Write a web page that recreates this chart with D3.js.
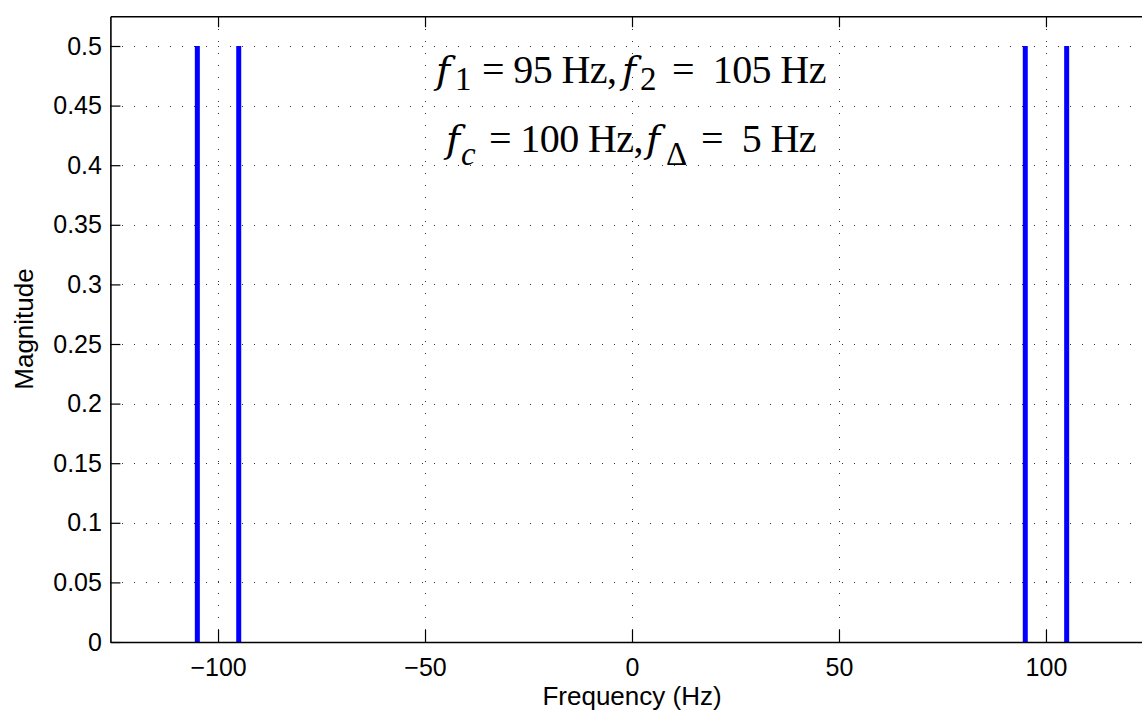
<!DOCTYPE html>
<html>
<head>
<meta charset="utf-8">
<script src="https://cdn.jsdelivr.net/npm/d3@7"></script>
<style>
  html, body { margin: 0; padding: 0; background: #fff; }
  svg { display: block; }
  text { white-space: pre; }
</style>
</head>
<body>
<svg id="chart" width="1142" height="711"></svg>
<script>
// ---- data ----
const frequencies = [-105, -95, 95, 105];
const magnitudes = [0.5, 0.5, 0.5, 0.5];
const xTicks = [-100, -50, 0, 50, 100];
const yTicks = [0, 0.05, 0.1, 0.15, 0.2, 0.25, 0.3, 0.35, 0.4, 0.45, 0.5];
const xDomain = [-126, 126];
const yDomain = [0, 0.525];
const xLabel = "Frequency (Hz)";
const yLabel = "Magnitude";

(function () {
// ---- layout ----
const svg = d3.select("#chart");
const x = d3.scaleLinear().domain(xDomain).range([110.4, 1153.6]);
const y = d3.scaleLinear().domain(yDomain).range([642, 16.2]);
const pLeft = x(xDomain[0]), pRight = x(xDomain[1]);
const pTop = y(yDomain[1]), pBottom = y(yDomain[0]);

// grid
const grid = svg.append("g").attr("stroke", "#333").attr("stroke-width", 1)
  .attr("stroke-dasharray", "1,11").attr("shape-rendering", "crispEdges");
grid.selectAll("line.vx").data(xTicks).join("line")
  .attr("x1", d => Math.round(x(d)) + 0.5).attr("x2", d => Math.round(x(d)) + 0.5)
  .attr("y1", pBottom).attr("y2", pTop);
grid.selectAll("line.hy").data(yTicks.filter(d => d > 0)).join("line")
  .attr("x1", pLeft).attr("x2", pRight)
  .attr("y1", d => Math.round(y(d)) + 0.5).attr("y2", d => Math.round(y(d)) + 0.5);

// spectral lines
svg.append("g").selectAll("line").data(frequencies).join("line")
  .attr("x1", d => x(d)).attr("x2", d => x(d))
  .attr("y1", y(0)).attr("y2", (d, i) => y(magnitudes[i]))
  .attr("stroke", "#0000ff").attr("stroke-width", 5);

// axes
const axisBottom = d3.axisBottom(x).tickValues(xTicks).tickSizeInner(-12).tickSizeOuter(0).tickPadding(16)
  .tickFormat(d3.format(""));
const axisTop = d3.axisTop(x).tickValues(xTicks).tickSizeInner(-11).tickSizeOuter(0).tickFormat("");
const axisLeft = d3.axisLeft(y).tickValues(yTicks).tickSizeInner(-10).tickSizeOuter(0).tickPadding(8.5)
  .tickFormat(d => d3.format("")(+d.toFixed(2)));

function styleAxis(g) {
  g.select(".domain").attr("stroke", "#000").attr("stroke-width", 1.6);
  g.selectAll(".tick line").attr("stroke", "#000").attr("stroke-width", 1.2);
  g.selectAll(".tick text").attr("fill", "#000")
    .attr("font-family", "'Liberation Sans', Arial, Helvetica, sans-serif").attr("font-size", 25);
}
svg.append("g").attr("transform", `translate(0,${pBottom})`).call(axisBottom).call(styleAxis);
svg.append("g").attr("transform", `translate(0,${pTop})`).call(axisTop).call(styleAxis);
svg.append("g").attr("transform", `translate(${pLeft},0)`).call(axisLeft).call(styleAxis);

// axis labels
svg.append("text").attr("x", x(0)).attr("y", 705).attr("text-anchor", "middle")
  .attr("font-family", "'Liberation Sans', Arial, sans-serif").attr("font-size", 26)
  .text(xLabel);
svg.append("text").attr("transform", `translate(33,329) rotate(-90)`)
  .attr("text-anchor", "middle")
  .attr("font-family", "'Liberation Sans', Arial, sans-serif").attr("font-size", 26)
  .text(yLabel);

// annotations (tspan offsets relative to the x=0 position)
function annot(yb, parts, shift) {
  const cx = x(0);
  const t = svg.append("text").attr("y", yb)
    .attr("font-family", "'Liberation Serif', 'Times New Roman', serif").attr("font-size", 40);
  parts.forEach(p => {
    const s = t.append("tspan").attr("x", cx + p.o).text(p.t);
    if (p.it) s.attr("font-style", "italic");
    if (p.sym) s.attr("font-family", "'DejaVu Serif', serif").attr("font-size", 38);
    if (p.sub) s.attr("font-size", 33).attr("dy", shift);
    if (p.after) s.attr("dy", -shift).attr("letter-spacing", -0.6);
  });
}
annot(83, [
  {t: "f", it: true, sym: true, o: -196}, {t: "1", sub: true, o: -177}, {t: "= 95 Hz,", after: true, o: -150},
  {t: "f", it: true, sym: true, o: -10}, {t: "2", sub: true, o: 8}, {t: "=  105 Hz", after: true, o: 40}
], 7);
annot(152, [
  {t: "f", it: true, sym: true, o: -186}, {t: "c", sub: true, it: true, o: -171}, {t: "= 100 Hz,", after: true, o: -143},
  {t: "f", it: true, sym: true, o: 14}, {t: "Δ", sub: true, o: 34}, {t: "=  5 Hz", after: true, o: 69}
], 13);
})();
</script>
</body>
</html>
